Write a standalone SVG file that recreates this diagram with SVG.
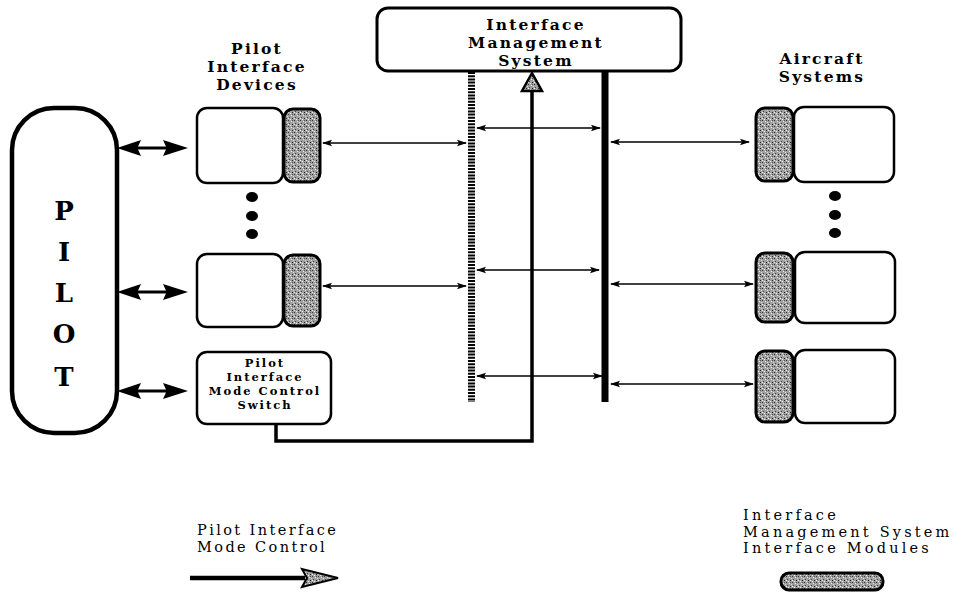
<svg xmlns="http://www.w3.org/2000/svg" width="961" height="601" viewBox="0 0 961 601">
<defs>
<pattern id="grain" width="6" height="6" patternUnits="userSpaceOnUse">
<rect width="6" height="6" fill="#a0a0a0"/>
<rect x="0" y="0" width="1" height="1" fill="#333"/>
<rect x="3" y="1" width="1" height="1" fill="#e8e8e8"/>
<rect x="1" y="3" width="1" height="1" fill="#444"/>
<rect x="4" y="4" width="1" height="1" fill="#222"/>
<rect x="5" y="2" width="1" height="1" fill="#ddd"/>
<rect x="2" y="5" width="1" height="1" fill="#eee"/>
<rect x="4" y="0" width="1" height="1" fill="#555"/>
<rect x="0" y="4" width="1" height="1" fill="#f0f0f0"/>
</pattern>
<marker id="ah" markerWidth="10" markerHeight="8" refX="9" refY="4" orient="auto-start-reverse" markerUnits="userSpaceOnUse">
<path d="M0,0.8 L10,4 L0,7.2 L2,4 Z" fill="#000"/>
</marker>
</defs>
<style>
.box{fill:#fff;stroke:#000;stroke-width:2.5}
.mod{fill:url(#grain);stroke:#000;stroke-width:3}
.lbl{font-family:"DejaVu Serif","Liberation Serif",serif;font-weight:bold;text-anchor:middle;fill:#000}
.big{font-size:15.5px;letter-spacing:2.2px}
.sw{font-size:11.5px;letter-spacing:2px}
.leg{font-family:"DejaVu Serif","Liberation Serif",serif;fill:#000;font-size:14.5px}
.thin{stroke:#000;stroke-width:1.5;fill:none;marker-start:url(#ah);marker-end:url(#ah)}
.fat{fill:#000}
.dot{fill:#000}
</style>

<g id="pilot">
<rect x="12" y="108" width="105" height="325" rx="42" fill="#fff" stroke="#000" stroke-width="4.5"/>
<text class="lbl" x="64" y="220" font-size="26">P</text>
<text class="lbl" x="64" y="261" font-size="26">I</text>
<text class="lbl" x="64" y="302" font-size="26">L</text>
<text class="lbl" x="64" y="343" font-size="26">O</text>
<text class="lbl" x="64" y="386" font-size="26">T</text>
</g>

<g id="pilot-devices-label">
<text class="lbl big" x="257" y="54">Pilot</text>
<text class="lbl big" x="257" y="72">Interface</text>
<text class="lbl big" x="257" y="90">Devices</text>
</g>

<g id="device1">
<rect class="box" x="197" y="108" width="86" height="75" rx="10"/>
<rect class="mod" x="284" y="109" width="36" height="73" rx="9"/>
</g>
<g id="device-dots">
<ellipse class="dot" cx="252" cy="197" rx="6" ry="5"/>
<ellipse class="dot" cx="252" cy="216" rx="6" ry="5"/>
<ellipse class="dot" cx="252" cy="234" rx="6" ry="5"/>
</g>
<g id="device2">
<rect class="box" x="197" y="254" width="86" height="73" rx="10"/>
<rect class="mod" x="284" y="255" width="36" height="71" rx="9"/>
</g>

<g id="mode-switch">
<rect class="box" x="197" y="352" width="134" height="72" rx="10"/>
<text class="lbl sw" x="265" y="367">Pilot</text>
<text class="lbl sw" x="265" y="381">Interface</text>
<text class="lbl sw" x="265" y="395">Mode Control</text>
<text class="lbl sw" x="265" y="409">Switch</text>
</g>

<g id="ims">
<rect x="377" y="8" width="304" height="63" rx="11" fill="#fff" stroke="#000" stroke-width="3"/>
<text class="lbl big" x="536" y="30">Interface</text>
<text class="lbl big" x="536" y="48">Management</text>
<text class="lbl big" x="536" y="66">System</text>
</g>

<g id="aircraft-label">
<text class="lbl big" x="822" y="64">Aircraft</text>
<text class="lbl big" x="822" y="82">Systems</text>
</g>

<g id="aircraft1">
<rect class="mod" x="756" y="108" width="37" height="73" rx="9"/>
<rect class="box" x="794" y="107" width="100" height="75" rx="10"/>
</g>
<g id="aircraft-dots">
<ellipse class="dot" cx="835" cy="196" rx="6" ry="5"/>
<ellipse class="dot" cx="835" cy="215" rx="6" ry="5"/>
<ellipse class="dot" cx="835" cy="233" rx="6" ry="5"/>
</g>
<g id="aircraft2">
<rect class="mod" x="756" y="253" width="37" height="69" rx="9"/>
<rect class="box" x="795" y="252" width="100" height="71" rx="10"/>
</g>
<g id="aircraft3">
<rect class="mod" x="756" y="351" width="37" height="71" rx="9"/>
<rect class="box" x="795" y="350" width="100" height="73" rx="10"/>
</g>

<g id="buses">
<line x1="471.5" y1="72" x2="471.5" y2="402" stroke="#000" stroke-width="7" stroke-dasharray="2 1.2"/>
<line x1="605" y1="71" x2="605" y2="402" stroke="#000" stroke-width="7"/>
</g>

<g id="connectors">
<path class="fat" d="M117,148 L141,140 L138,146.5 L166,146.5 L163,140 L188,148 L163,156 L166,149.5 L138,149.5 L141,156 Z"/>
<path class="fat" d="M117,292 L141,284 L138,290.5 L166,290.5 L163,284 L188,292 L163,300 L166,293.5 L138,293.5 L141,300 Z"/>
<path class="fat" d="M117,391 L141,383 L138,389.5 L166,389.5 L163,383 L188,391 L163,399 L166,392.5 L138,392.5 L141,399 Z"/>
<line class="thin" x1="323" y1="143" x2="466" y2="143"/>
<line class="thin" x1="323" y1="286" x2="466" y2="286"/>
<line class="thin" x1="477" y1="128" x2="600" y2="128"/>
<line class="thin" x1="477" y1="270" x2="599" y2="270"/>
<line class="thin" x1="477" y1="376" x2="602" y2="376"/>
<line class="thin" x1="611" y1="142" x2="749" y2="142"/>
<line class="thin" x1="611" y1="284" x2="753" y2="284"/>
<line class="thin" x1="611" y1="384" x2="753" y2="384"/>
<polyline points="276,424 276,441 532,441 532,88" fill="none" stroke="#000" stroke-width="3.5"/>
<path d="M532,73 L542,91 L522,91 Z" fill="url(#grain)" stroke="#000" stroke-width="2.5"/>
</g>

<g id="legend-mode">
<text class="leg" x="197" y="535" letter-spacing="2.4">Pilot Interface</text>
<text class="leg" x="197" y="552" letter-spacing="2.4">Mode Control</text>
<line x1="190" y1="578" x2="305" y2="578" stroke="#000" stroke-width="4.5"/>
<path d="M338,578 L302,569 L307,578 L302,587 Z" fill="url(#grain)" stroke="#000" stroke-width="2"/>
</g>

<g id="legend-module">
<text class="leg" x="743" y="520" letter-spacing="3.2" font-size="14">Interface</text>
<text class="leg" x="743" y="537" letter-spacing="3.2" font-size="14">Management System</text>
<text class="leg" x="743" y="553" letter-spacing="3.2" font-size="14">Interface Modules</text>
<rect class="mod" x="781" y="573" width="102" height="17" rx="8"/>
</g>
</svg>
